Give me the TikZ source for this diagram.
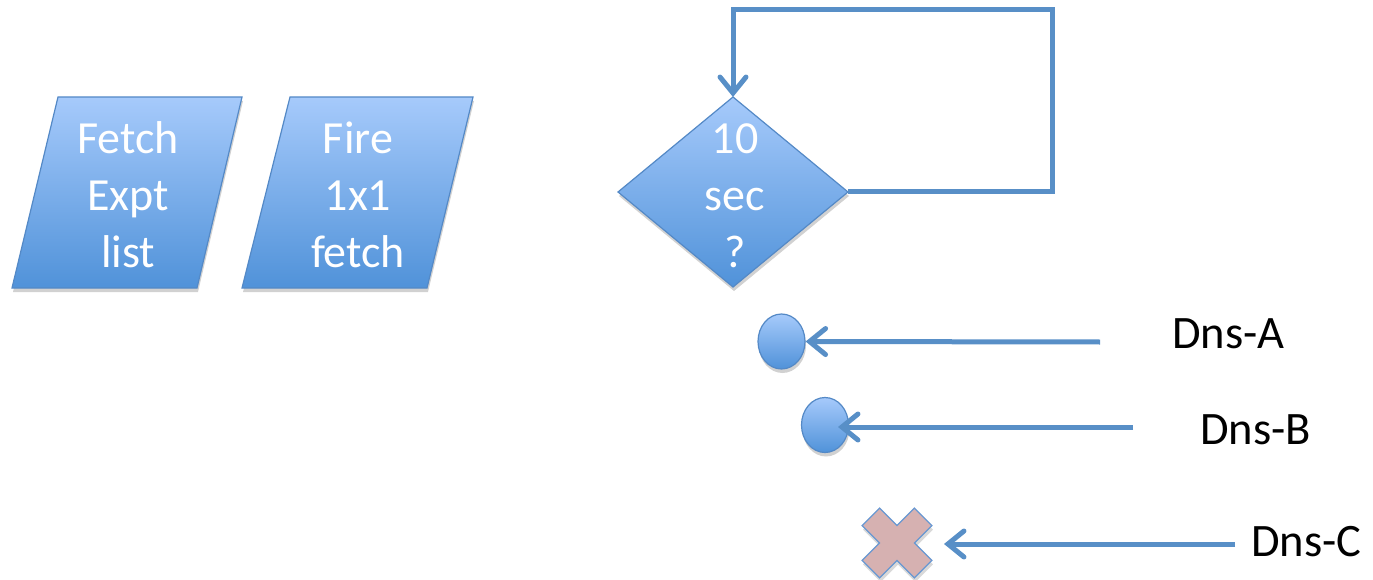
\documentclass[tikz,border=0pt]{standalone}
\usepackage{fontspec}
\setmainfont{Carlito}
\usetikzlibrary{arrows.meta,shapes.geometric,shadows}
\definecolor{lineblue}{RGB}{88,143,199}
\definecolor{shapetop}{RGB}{166,202,251}
\definecolor{shapebot}{RGB}{80,146,217}
\definecolor{shapeborder}{RGB}{84,137,198}
\definecolor{crossfill}{RGB}{214,177,177}
\definecolor{crossborder}{RGB}{104,152,210}
\begin{document}
\begin{tikzpicture}[x=1pt,y=-1pt,
  shapefill/.style={top color=shapetop,bottom color=shapebot,draw=shapeborder,line width=1.2pt,line join=miter,
    drop shadow={shadow xshift=1pt,shadow yshift=-4pt,opacity=0.18,fill=black}},
  intext/.style={text=white,font=\fontsize{46}{57}\selectfont,align=center,inner sep=0pt},
  lbl/.style={text=black,font=\fontsize{46.5}{57}\selectfont,inner sep=0pt,anchor=base west},
  conn/.style={draw=lineblue,line width=5pt},
  tip/.style={-{Straight Barb[length=16pt,width=26pt,line cap=round]}},
  dot/.style={ellipse,shapefill,minimum width=47pt,minimum height=55pt,inner sep=0pt}
]
\useasboundingbox (0,0) rectangle (1373,580);

% parallelograms
\draw[shapefill] (58,97) -- (242,97) -- (197,288) -- (12,288) -- cycle;
\node[intext,anchor=base] (t1) at (128,267) {Fetch\\Expt\\list};
\draw[shapefill] (290,97) -- (473,97) -- (427,288) -- (242,288) -- cycle;
\node[intext,anchor=base] (t2) at (358,267) {Fire\\1x1\\fetch};

% diamond
\draw[shapefill] (733,97) coordinate (dtop) -- (848,192) coordinate (dright) -- (733,287) coordinate (dbot) -- (618,192) coordinate (dleft) -- cycle;
\node[intext,anchor=base] (dt) at (735,267) {10\\sec\\?};

% loop
\coordinate (l1) at (1052,192);
\coordinate (l2) at (1052,10);
\coordinate (l3) at (733,10);
\draw[conn,tip] (dright) -- (l1) -- (l2) -- (l3) -- (dtop);

% circles
\node[dot] (c1) at (781.5,341.5) {};
\node[dot] (c2) at (825,425) {};
\coordinate (a1) at (1100,342);
\draw[conn,tip] (a1) -- (c1.east);
\coordinate (a2) at (1133,427);
\coordinate (a2e) at (838,427);
\draw[conn,tip] (a2) -- (a2e);

% cross
\coordinate (xc) at (897,543);
\begin{scope}[shift={(xc)},rotate=45]
\draw[fill=crossfill,draw=crossborder,line width=1.2pt,
  drop shadow={shadow xshift=1pt,shadow yshift=-4pt,opacity=0.15,fill=black}]
  (37,12.4) -- (12.4,12.4) -- (12.4,37) -- (-12.4,37) -- (-12.4,12.4) -- (-37,12.4)
  -- (-37,-12.4) -- (-12.4,-12.4) -- (-12.4,-37) -- (12.4,-37) -- (12.4,-12.4) -- (37,-12.4) -- cycle;
\end{scope}
\coordinate (a3) at (1235,544);
\coordinate (a3e) at (944,544);
\draw[conn,tip] (a3) -- (a3e);

% labels
\node[lbl] (la) at (1172,348) {Dns-A};
\node[lbl] (lb) at (1200,444) {Dns-B};
\node[lbl] (lc) at (1251,556) {Dns-C};
\end{tikzpicture}
\end{document}
